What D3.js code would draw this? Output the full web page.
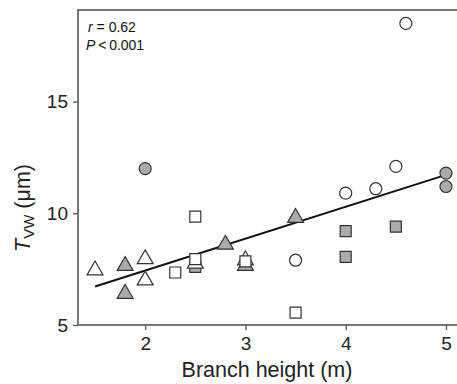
<!DOCTYPE html>
<html>
<head>
<meta charset="utf-8">
<script src="https://cdn.jsdelivr.net/npm/d3@7"></script>
<style>
  body { margin: 0; background: #fff; }
  svg { display: block; font-family: "Liberation Sans", Arial, sans-serif; }
</style>
</head>
<body>
<svg id="chart" width="457" height="384"></svg>
<script>
// values, one pair of arrays per marker group
const openCircleX = [3.5, 4.0, 4.3, 4.5, 4.6];
const openCircleY = [7.9, 10.9, 11.1, 12.1, 18.5];
const grayCircleX = [2.0, 5.0, 5.0];
const grayCircleY = [12.0, 11.8, 11.2];
const openSquareX = [2.3, 2.5, 2.5, 3.0, 3.5];
const openSquareY = [7.35, 9.85, 7.95, 7.85, 5.55];
const graySquareX = [2.5, 4.0, 4.0, 4.5];
const graySquareY = [7.6, 9.2, 8.05, 9.4];
const openTriangleX = [1.5, 2.0, 2.0, 2.5, 3.0];
const openTriangleY = [7.45, 7.95, 7.0, 7.75, 7.9];
const grayTriangleX = [1.8, 1.8, 2.8, 3.0, 3.5];
const grayTriangleY = [7.65, 6.4, 8.6, 7.65, 9.8];

// fitted line end points
const fitX = [1.5, 5.0];
const fitY = [6.72, 11.72];

const xTicks = [2, 3, 4, 5];
const yTicks = [5, 10, 15];
const xDomain = [1.33, 5.12];
const yDomain = [5, 19.1];

const svg = d3.select('#chart');
const margin = { top: 10, right: -1, bottom: 59, left: 78 };
const width = 457, height = 384;

const xScale = d3.scaleLinear().domain(xDomain).range([margin.left, width - margin.right]);
const yScale = d3.scaleLinear().domain(yDomain).range([height - margin.bottom, margin.top]);

const axisColor = '#555';

// frame
svg.append('rect')
    .attr('x', margin.left)
    .attr('y', margin.top)
    .attr('width', width - margin.right - margin.left)
    .attr('height', height - margin.bottom - margin.top)
    .attr('fill', 'none')
    .attr('stroke', axisColor)
    .attr('stroke-width', 1.6);

// axes
const xAxis = svg.append('g')
    .attr('transform', `translate(0, ${height - margin.bottom})`)
    .call(d3.axisBottom(xScale).tickValues(xTicks).tickFormat(d3.format('d'))
        .tickSize(5).tickPadding(7).tickSizeOuter(0));
const yAxis = svg.append('g')
    .attr('transform', `translate(${margin.left}, 0)`)
    .call(d3.axisLeft(yScale).tickValues(yTicks).tickFormat(d3.format('d'))
        .tickSize(5).tickPadding(5).tickSizeOuter(0));

[xAxis, yAxis].forEach(ax => {
    ax.select('.domain').remove();
    ax.selectAll('line').attr('stroke', axisColor).attr('stroke-width', 1.3);
    ax.selectAll('text')
        .attr('fill', '#222')
        .attr('font-size', 19)
        .attr('font-family', '"Liberation Sans", Arial, sans-serif');
});

// regression line
const line = d3.line().x(d => xScale(d[0])).y(d => yScale(d[1]));
svg.append('path')
    .attr('d', line(d3.zip(fitX, fitY)))
    .attr('fill', 'none')
    .attr('stroke', '#111')
    .attr('stroke-width', 2);

// markers
const grayFill = '#ababab';
function drawGroup(xs, ys, type, size, fill) {
    const sym = d3.symbol().type(type).size(size);
    svg.append('g')
        .selectAll('path')
        .data(d3.zip(xs, ys))
        .enter()
        .append('path')
        .attr('d', sym)
        .attr('transform', d => `translate(${xScale(d[0])}, ${yScale(d[1])})`)
        .attr('fill', fill)
        .attr('stroke', '#333')
        .attr('stroke-width', 1.2);
}

drawGroup(grayTriangleX, grayTriangleY, d3.symbolTriangle, 110, grayFill);
drawGroup(graySquareX, graySquareY, d3.symbolSquare, 121, grayFill);
drawGroup(grayCircleX, grayCircleY, d3.symbolCircle, 113, grayFill);
drawGroup(openTriangleX, openTriangleY, d3.symbolTriangle, 110, '#fff');
drawGroup(openCircleX, openCircleY, d3.symbolCircle, 113, '#fff');
drawGroup(openSquareX, openSquareY, d3.symbolSquare, 121, '#fff');

// stats text
const stats = svg.append('g').attr('font-size', 14).attr('fill', '#111');
const t1 = stats.append('text').attr('x', 88).attr('y', 32);
t1.append('tspan').attr('font-style', 'italic').text('r');
t1.append('tspan').text(' = 0.62');
const t2 = stats.append('text').attr('x', 86).attr('y', 50);
t2.append('tspan').attr('font-style', 'italic').text('P');
t2.append('tspan').text('\u2009<\u20090.001');

// axis titles
svg.append('text')
    .attr('x', 267)
    .attr('y', 377)
    .attr('text-anchor', 'middle')
    .attr('font-size', 21.5)
    .attr('fill', '#222')
    .text('Branch height (m)');

const yl = svg.append('text')
    .attr('transform', 'translate(30, 208) rotate(-90)')
    .attr('text-anchor', 'middle')
    .attr('font-size', 21.5)
    .attr('fill', '#222');
yl.append('tspan').attr('font-style', 'italic').text('T');
yl.append('tspan').attr('font-size', 15).attr('dy', 4).text('VW');
yl.append('tspan').attr('dy', -4).text(' (\u03bcm)');
</script>
</body>
</html>
